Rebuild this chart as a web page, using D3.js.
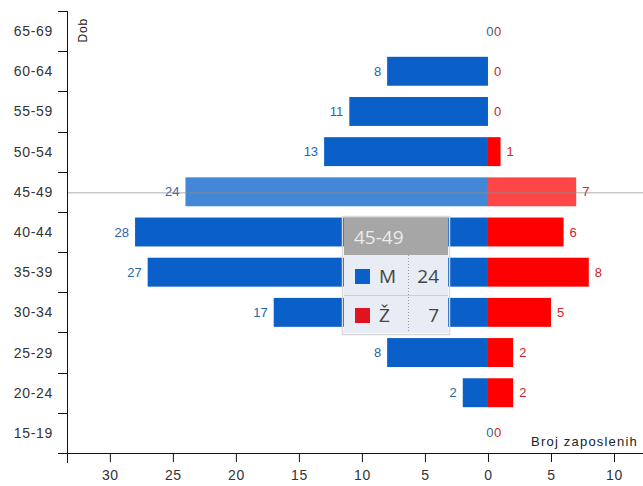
<!DOCTYPE html>
<html>
<head>
<meta charset="utf-8">
<script src="https://cdn.jsdelivr.net/npm/d3@7"></script>
<style>
  html, body { margin: 0; padding: 0; background: #fff; }
  svg { display: block; }
</style>
</head>
<body>
<svg id="chart" width="643" height="486"></svg>
<script>
// ---- data ----
const categories = ["65-69", "60-64", "55-59", "50-54", "45-49", "40-44", "35-39", "30-34", "25-29", "20-24", "15-19"];
const maleValues = [0, 8, 11, 13, 24, 28, 27, 17, 8, 2, 0];
const femaleValues = [0, 0, 0, 1, 7, 6, 8, 5, 2, 2, 0];
const xTickValues = [-30, -25, -20, -15, -10, -5, 0, 5, 10];
const seriesNames = ["M", "Ž"];
const highlighted = "45-49";
const yTitle = "Dob";
const xTitle = "Broj zaposlenih";

// ---- layout ----
const svg = d3.select("#chart");
const plotLeft = 67, plotRight = 643, plotTop = 11, plotBottom = 453;

const x = d3.scaleLinear().domain([-33.4, 12.3]).range([plotLeft, plotRight]);
const y = d3.scaleBand().domain(categories).range([plotTop, plotBottom]).paddingInner(0.28).paddingOuter(0.14);

const blue = "#0b5fc8", blueHi = "#4388d6";
const red = "#ff0000", redHi = "#ff4646";
const blueText = "#2a66a8", redText = "#d42222";
const font = "'Liberation Sans', Arial, sans-serif";

const rows = categories.map((c, i) => ({ cat: c, m: maleValues[i], f: femaleValues[i] }));

// bars
const g = svg.append("g");
g.selectAll("rect.m").data(rows).enter().append("rect")
  .attr("x", d => x(-d.m))
  .attr("y", d => y(d.cat))
  .attr("width", d => x(0) - x(-d.m))
  .attr("height", y.bandwidth())
  .attr("fill", d => d.cat === highlighted ? blueHi : blue);
g.selectAll("rect.f").data(rows).enter().append("rect")
  .attr("x", x(0))
  .attr("y", d => y(d.cat))
  .attr("width", d => x(d.f) - x(0))
  .attr("height", y.bandwidth())
  .attr("fill", d => d.cat === highlighted ? redHi : red);

// hover line
const hy = y(highlighted) + y.bandwidth() / 2 + 1;
svg.append("line").attr("x1", plotLeft).attr("x2", plotRight).attr("y1", hy).attr("y2", hy)
  .attr("stroke", "#8c8c8c").attr("stroke-opacity", 0.7).attr("stroke-width", 1);

// data labels
g.selectAll("text.m").data(rows).enter().append("text")
  .attr("x", d => d.m === 0 ? x(0) + 5.5 : x(-d.m) - 6)
  .attr("y", d => y(d.cat) + y.bandwidth() / 2 + 4.5)
  .attr("text-anchor", "end")
  .attr("font-family", font).attr("font-size", 13)
  .attr("fill", blueText)
  .text(d => d.m);
g.selectAll("text.f").data(rows).enter().append("text")
  .attr("x", d => x(d.f) + 6)
  .attr("y", d => y(d.cat) + y.bandwidth() / 2 + 4.5)
  .attr("text-anchor", "start")
  .attr("font-family", font).attr("font-size", 13)
  .attr("fill", redText)
  .text(d => d.f);

// x axis
const xAxis = svg.append("g").attr("transform", `translate(0,${plotBottom})`)
  .call(d3.axisBottom(x).tickValues(xTickValues).tickFormat(d => Math.abs(d)).tickSizeOuter(0).tickSize(9).tickPadding(8));
xAxis.select(".domain").remove();
xAxis.append("line").attr("x1", plotLeft - 9).attr("x2", plotRight).attr("y1", 0.5).attr("y2", 0.5).attr("stroke", "#111");
xAxis.selectAll(".tick line").attr("stroke", "#111");
xAxis.selectAll(".tick text").attr("font-family", font).attr("font-size", 14).attr("fill", "#333").attr("letter-spacing", 0.6);

// y axis
const yAxis = svg.append("g");
yAxis.append("line").attr("x1", plotLeft + 0.5).attr("x2", plotLeft + 0.5).attr("y1", plotTop).attr("y2", plotBottom + 10).attr("stroke", "#111");
const step = y.step();
yAxis.selectAll("line.tk").data(categories).enter().append("line")
  .attr("x1", plotLeft - 9).attr("x2", plotLeft)
  .attr("y1", d => Math.round(y(d) - y.paddingInner() * step / 2) + 0.5)
  .attr("y2", d => Math.round(y(d) - y.paddingInner() * step / 2) + 0.5)
  .attr("stroke", "#111");
yAxis.selectAll("text.cat").data(categories).enter().append("text")
  .attr("x", 53)
  .attr("y", d => y(d) + y.bandwidth() / 2 + 5)
  .attr("text-anchor", "end")
  .attr("font-family", font).attr("font-size", 14).attr("fill", "#333").attr("letter-spacing", 0.7)
  .text(d => d);

// axis titles
svg.append("text")
  .attr("transform", "translate(87,18) rotate(-90)")
  .attr("text-anchor", "end")
  .attr("font-family", font).attr("font-size", 12).attr("fill", "#222").attr("letter-spacing", 0.8)
  .text(yTitle);
svg.append("text")
  .attr("x", 638).attr("y", 446)
  .attr("text-anchor", "end")
  .attr("font-family", font).attr("font-size", 13).attr("fill", "#222").attr("letter-spacing", 1.2)
  .text(xTitle);

// tooltip
const hi = rows.find(r => r.cat === highlighted);
const tt = svg.append("g").attr("transform", "translate(344,218)");
const tfont = "'Open Sans', 'Noto Sans', sans-serif";
tt.append("rect").attr("x", -1.5).attr("y", -1.5).attr("width", 107).attr("height", 118)
  .attr("fill", "none").attr("stroke", "#d8d8d8").attr("stroke-width", 1.5);
tt.append("rect").attr("x", 0).attr("y", 0).attr("width", 104).attr("height", 37).attr("fill", "#a6a6a6");
tt.append("rect").attr("x", 0).attr("y", 37).attr("width", 104).attr("height", 78).attr("fill", "#e8edf5");
tt.append("line").attr("x1", 0).attr("x2", 104).attr("y1", 77.5).attr("y2", 77.5).attr("stroke", "#c9ced6");
tt.append("line").attr("x1", 64.5).attr("x2", 64.5).attr("y1", 37).attr("y2", 115)
  .attr("stroke", "#9aa0a8").attr("stroke-dasharray", "1,2");
tt.append("text").attr("x", 10).attr("y", 26).attr("font-family", tfont).attr("font-size", 19)
  .attr("fill", "#ececec").text(highlighted);
const ttRows = [
  { name: seriesNames[0], value: hi.m, color: blue },
  { name: seriesNames[1], value: hi.f, color: red }
];
ttRows.forEach((r, i) => {
  const yy = 37 + i * 39;
  tt.append("rect").attr("x", 11).attr("y", yy + 14).attr("width", 15).attr("height", 15).attr("fill", i === 0 ? "#0b5fc8" : "#e0141e");
  tt.append("text").attr("x", 35).attr("y", yy + 28).attr("font-family", tfont).attr("font-size", 19)
    .attr("fill", "#444").text(r.name);
  tt.append("text").attr("x", 95).attr("y", yy + 28).attr("text-anchor", "end").attr("font-family", tfont).attr("font-size", 19)
    .attr("fill", "#444").text(r.value);
});
</script>
</body>
</html>
